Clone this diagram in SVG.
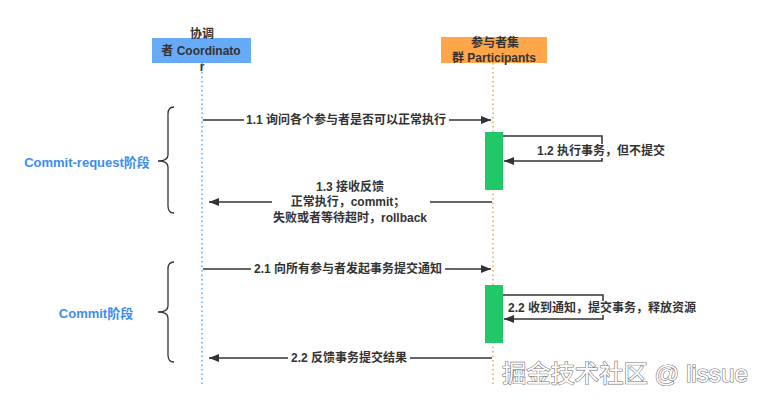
<svg xmlns="http://www.w3.org/2000/svg" width="762" height="402" viewBox="0 0 762 402">
<defs>
<marker id="ah" viewBox="0 0 10 8" refX="10" refY="4" markerWidth="10" markerHeight="8" markerUnits="userSpaceOnUse" orient="auto">
<path d="M0,0 L10,4 L0,8 Z" fill="#333"/>
</marker>
<style>
text{font-family:"Liberation Sans","Noto Sans CJK SC",sans-serif;font-weight:bold;font-size:12px;fill:#333;text-anchor:middle;dominant-baseline:central}
.msg{stroke:#333;stroke-width:1.5;fill:none}
.bg{fill:#fff}
.act{fill:#22c768}
.brace{stroke:#333;stroke-width:1.3;fill:none}
.phase{fill:#3a8ef0;font-size:13px}
.wm{font-size:24px;font-weight:normal;fill:#fff;stroke:#777;stroke-width:1.2;paint-order:stroke;text-anchor:start}
</style>
</defs>
<rect width="762" height="402" fill="#fff"/>
<g id="coordinator">
<line x1="202" y1="63" x2="202" y2="386" stroke="#5aa6f5" stroke-width="1.5" stroke-dasharray="1.5,3"/>
<rect x="152" y="38" width="99" height="25" fill="#66aaf8"/>
<text x="202" y="34">协调</text>
<text x="201" y="51">者 Coordinato</text>
<text x="202" y="67">r</text>
</g>
<g id="participants">
<line x1="493" y1="63" x2="493" y2="386" stroke="#f5a15a" stroke-width="1.5" stroke-dasharray="1.5,3"/>
<rect x="441" y="37" width="106" height="26" fill="#ffa64a"/>
<text x="495" y="43">参与者集</text>
<text x="494" y="58">群 Participants</text>
</g>
<g id="act1"><rect class="act" x="485" y="132" width="18" height="58"/></g>
<g id="act2"><rect class="act" x="485" y="285" width="18" height="58"/></g>
<g id="brace1">
<path class="brace" d="M174,107 Q168,107 168,114 L168,155 Q168,161 158,161 Q168,161 168,167 L168,206 Q168,213 174,213"/>
<text class="phase" x="87" y="162">Commit-request阶段</text>
</g>
<g id="brace2">
<path class="brace" d="M174,262 Q168,262 168,269 L168,306 Q168,312 158,312 Q168,312 168,318 L168,355 Q168,362 174,362"/>
<text class="phase" x="96" y="313">Commit阶段</text>
</g>
<g id="connectors">
<line class="msg" x1="203" y1="120" x2="491" y2="120" marker-end="url(#ah)"/>
<rect class="bg" x="244" y="112" width="205" height="16"/>
<text x="346" y="120">1.1 询问各个参与者是否可以正常执行</text>

<path class="msg" d="M503,136 L602,136 L602,161 L504,161" marker-end="url(#ah)"/>
<rect class="bg" x="535" y="144" width="132" height="14"/>
<text x="601" y="151">1.2 执行事务，但不提交</text>

<line class="msg" x1="492" y1="202" x2="209" y2="202" marker-end="url(#ah)"/>
<rect class="bg" x="272" y="180" width="158" height="46"/>
<text x="350" y="187">1.3 接收反馈</text>
<text x="348" y="202">正常执行，commit；</text>
<text x="350" y="218">失败或者等待超时，rollback</text>

<line class="msg" x1="203" y1="269" x2="491" y2="269" marker-end="url(#ah)"/>
<rect class="bg" x="251" y="261" width="194" height="16"/>
<text x="348" y="269">2.1 向所有参与者发起事务提交通知</text>

<path class="msg" d="M503,295 L603,295 L603,319 L504,319" marker-end="url(#ah)"/>
<rect class="bg" x="505" y="301" width="195" height="14"/>
<text x="602" y="308">2.2 收到通知，提交事务，释放资源</text>

<line class="msg" x1="492" y1="358" x2="209" y2="358" marker-end="url(#ah)"/>
<rect class="bg" x="288" y="350" width="122" height="16"/>
<text x="349" y="358">2.2 反馈事务提交结果</text>
</g>
<text class="wm" x="502" y="373" textLength="246" lengthAdjust="spacingAndGlyphs">掘金技术社区 @ lissue</text>
</svg>
